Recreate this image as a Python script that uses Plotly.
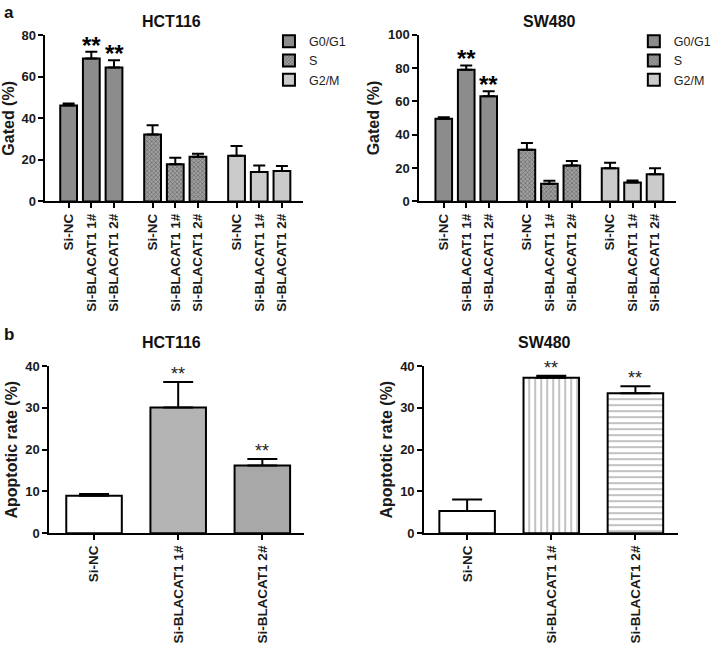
import plotly.graph_objects as go

W, H = 716, 647

# ---------------- data ----------------
groups = ["G0/G1", "S", "G2/M"]
tick_labels = ["Si-NC", "Si-BLACAT1 1#", "Si-BLACAT1 2#"]

hct_cycle = {"G0/G1": [46.2, 68.8, 64.5], "S": [32.2, 17.9, 21.5], "G2/M": [22.0, 14.1, 14.7]}
hct_cycle_err = {"G0/G1": [1.0, 3.3, 3.5], "S": [4.5, 3.1, 1.5], "G2/M": [4.7, 3.2, 2.4]}
sw_cycle = {"G0/G1": [49.6, 78.9, 63.1], "S": [31.0, 10.5, 21.5], "G2/M": [19.9, 11.3, 16.2]}
sw_cycle_err = {"G0/G1": [0.8, 2.6, 3.0], "S": [4.0, 1.9, 2.7], "G2/M": [3.3, 1.2, 3.7]}
cycle_sig = {"G0/G1": ["", "**", "**"], "S": ["", "", ""], "G2/M": ["", "", ""]}

hct_apop = [9.0, 30.1, 16.2]
hct_apop_err = [0.4, 6.1, 1.6]
sw_apop = [5.3, 37.2, 33.5]
sw_apop_err = [2.8, 0.5, 1.7]
apop_sig = ["", "**", "**"]

# ---------------- styles ----------------
FONT = "Liberation Sans"
group_style = {
    "G0/G1": dict(color="#8c8c8c"),
    "S": dict(color="#8a8a8a", pattern=dict(shape="x", size=3, solidity=0.45, fgcolor="#3a3a3a", bgcolor="#a0a0a0")),
    "G2/M": dict(color="#cbcbcb"),
}
GROUP_STEP = 3.7

fig = go.Figure()

def px_dom_x(a, b):
    return [a / W, b / W]

def px_dom_y(top, bottom):
    return [1 - bottom / H, 1 - top / H]

def add_cycle(data, err, xa, ya, legend, show_legend):
    for gi, g in enumerate(groups):
        xs = [gi * GROUP_STEP + i for i in range(3)]
        st = group_style[g]
        fig.add_trace(go.Bar(
            x=xs, y=data[g], name=g, width=0.74,
            marker=dict(color=st["color"], line=dict(color="black", width=2),
                        pattern=st.get("pattern", dict(shape=""))),
            error_y=dict(type="data", symmetric=False, array=err[g], arrayminus=[0, 0, 0],
                         color="black", thickness=2, width=6),
            xaxis=xa, yaxis=ya, legend=legend, showlegend=show_legend,
        ))
        for x, v, e, s in zip(xs, data[g], err[g], cycle_sig[g]):
            if s:
                fig.add_annotation(x=x, y=v + e, xref=xa, yref=ya, text="<b>" + s + "</b>",
                                   showarrow=False, yanchor="bottom", yshift=-9,
                                   font=dict(family=FONT, size=24, color="black"))

add_cycle(hct_cycle, hct_cycle_err, "x", "y", "legend", True)
add_cycle(sw_cycle, sw_cycle_err, "x2", "y2", "legend2", True)

apop_styles_l = [
    dict(color="white"),
    dict(color="#b4b4b4"),
    dict(color="#a8a8a8"),
]
apop_styles_r = [
    dict(color="white"),
    dict(color="white", pattern=dict(shape="|", size=6, solidity=0.3, fgcolor="#777777", bgcolor="white")),
    dict(color="white", pattern=dict(shape="-", size=6, solidity=0.3, fgcolor="#777777", bgcolor="white")),
]

def add_apop(vals, err, xa, ya, styles):
    for i, (v, e, st) in enumerate(zip(vals, err, styles)):
        fig.add_trace(go.Bar(
            x=[i], y=[v], width=0.66, showlegend=False,
            marker=dict(color=st["color"], line=dict(color="black", width=2),
                        pattern=st.get("pattern", dict(shape=""))),
            error_y=dict(type="data", symmetric=False, array=[e], arrayminus=[0],
                         color="black", thickness=2, width=15),
            xaxis=xa, yaxis=ya,
        ))
        if apop_sig[i]:
            fig.add_annotation(x=i, y=v + e, xref=xa, yref=ya, text=apop_sig[i],
                               showarrow=False, yanchor="bottom", yshift=-4,
                               font=dict(family=FONT, size=18, color="#222"))

add_apop(hct_apop, hct_apop_err, "x3", "y3", apop_styles_l)
add_apop(sw_apop, sw_apop_err, "x4", "y4", apop_styles_r)

xtickfont = dict(family=FONT, size=13.5, color="#1a1a1a")
ytickfont = dict(family=FONT, size=13, color="#1a1a1a", weight="bold")
ytitlefont = dict(family=FONT, size=16, color="#1a1a1a")
axis_common = dict(showline=True, linecolor="black", linewidth=2, ticks="outside",
                   ticklen=5, tickwidth=2, tickcolor="black", showgrid=False, zeroline=False)

cyc_ticks = [gi * GROUP_STEP + i for gi in range(3) for i in range(3)]
cyc_text = ["<b>" + t + "</b>" for _ in groups for t in tick_labels]
apop_text = ["<b>" + t + "</b>" for t in tick_labels]

fig.update_layout(
    width=W, height=H, margin=dict(l=0, r=0, t=0, b=0),
    paper_bgcolor="white", plot_bgcolor="white",
    barmode="overlay", font=dict(family=FONT, color="black"),
    xaxis=dict(domain=px_dom_x(46, 306), range=[-1.02, 2 * GROUP_STEP + 2 + 0.91],
               tickvals=cyc_ticks, ticktext=cyc_text, tickangle=-90, tickfont=xtickfont, anchor="y", **axis_common),
    yaxis=dict(domain=px_dom_y(29, 199), range=[0, 80], dtick=20, anchor="x", tickfont=ytickfont,
               title=dict(text="<b>Gated (%)</b>", font=ytitlefont, standoff=4), **axis_common),
    xaxis2=dict(domain=px_dom_x(424, 684), range=[-1.09, 2 * GROUP_STEP + 2 + 0.95],
                tickvals=cyc_ticks, ticktext=cyc_text, tickangle=-90, tickfont=xtickfont, anchor="y2", **axis_common),
    yaxis2=dict(domain=px_dom_y(28.3, 199), range=[0, 100], dtick=20, anchor="x2", tickfont=ytickfont,
                title=dict(text="<b>Gated (%)</b>", font=ytitlefont, standoff=4), **axis_common),
    xaxis3=dict(domain=px_dom_x(50, 307), range=[-0.53, 2.49], tickvals=[0, 1, 2],
                ticktext=apop_text, tickangle=-90, tickfont=xtickfont, anchor="y3", **axis_common),
    yaxis3=dict(domain=px_dom_y(367.7, 538.7), range=[0, 40], dtick=10, anchor="x3", tickfont=ytickfont,
                title=dict(text="<b>Apoptotic rate (%)</b>", font=ytitlefont, standoff=4), **axis_common),
    xaxis4=dict(domain=px_dom_x(429, 686), range=[-0.51, 2.51], tickvals=[0, 1, 2],
                ticktext=apop_text, tickangle=-90, tickfont=xtickfont, anchor="y4", **axis_common),
    yaxis4=dict(domain=px_dom_y(367.7, 538.7), range=[0, 40], dtick=10, anchor="x4", tickfont=ytickfont,
                title=dict(text="<b>Apoptotic rate (%)</b>", font=ytitlefont, standoff=4), **axis_common),
    legend=dict(x=272 / W, y=1 - 20 / H, xanchor="left", yanchor="top", bgcolor="rgba(0,0,0,0)",
                font=dict(family=FONT, size=12.5, color="#222"), tracegroupgap=0, itemwidth=30),
    legend2=dict(x=641 / W, y=1 - 20 / H, xanchor="left", yanchor="top", bgcolor="rgba(0,0,0,0)",
                 font=dict(family=FONT, size=12.5, color="#222"), tracegroupgap=0, itemwidth=30),
)

titles = [("HCT116", 173, 15), ("SW480", 556, 15), ("HCT116", 173, 343), ("SW480", 551, 343)]
for t, x, y in titles:
    fig.add_annotation(text="<b>" + t + "</b>", x=x / W, y=1 - y / H, xref="paper", yref="paper",
                       showarrow=False, xanchor="center", yanchor="middle",
                       font=dict(family=FONT, size=16, color="#111"))
for t, x, y in [("a", 9, 6), ("b", 9, 335)]:
    fig.add_annotation(text="<b>" + t + "</b>", x=x / W, y=1 - y / H, xref="paper", yref="paper",
                       showarrow=False, xanchor="center", yanchor="middle",
                       font=dict(family=FONT, size=17, color="#111"))

post = ("document.body.style.margin='0';document.body.style.overflow='hidden';"
        "var gd=document.getElementById('{plot_id}');gd.style.position='fixed';"
        "gd.style.top='0px';gd.style.left='0px';")
fig.write_html("out.html", config={"displayModeBar": False}, post_script=post)
